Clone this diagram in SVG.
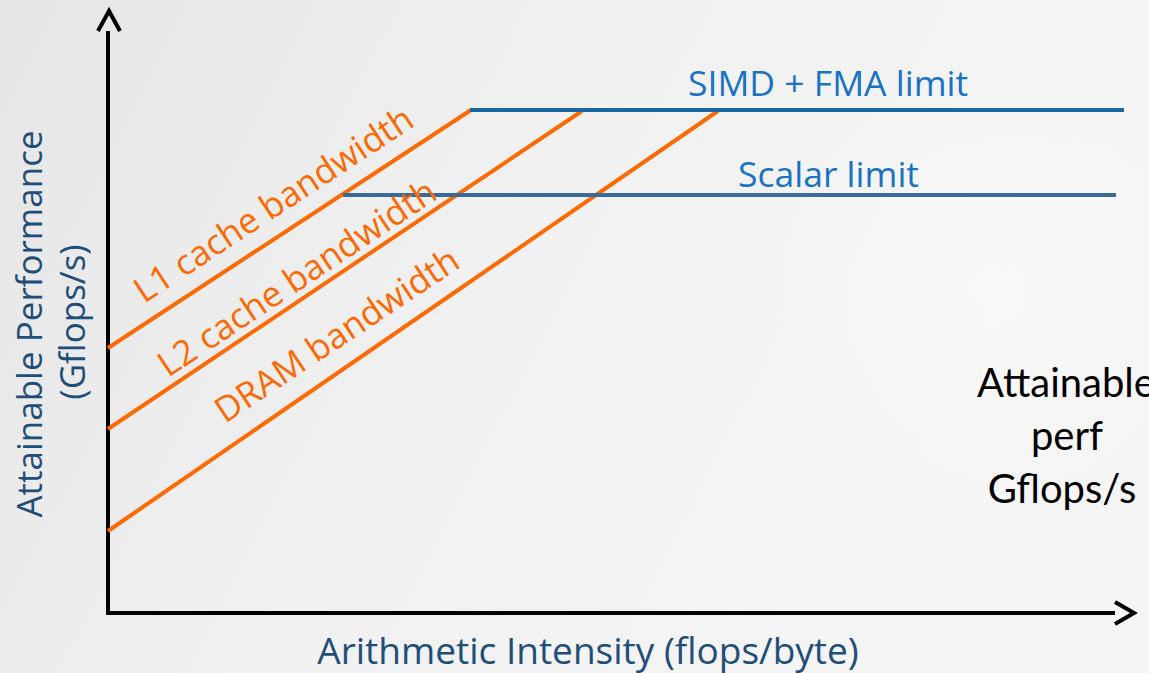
<svg xmlns="http://www.w3.org/2000/svg" width="1149" height="673" viewBox="0 0 1149 673">
  <defs>
    <linearGradient id="bg" x1="0" y1="0" x2="1" y2="0.3">
      <stop offset="0" stop-color="#e6e6e6"/>
      <stop offset="0.5" stop-color="#f1f1f1"/>
      <stop offset="1" stop-color="#f5f5f5"/>
    </linearGradient>
    <radialGradient id="glow" cx="990" cy="290" r="220" gradientUnits="userSpaceOnUse">
      <stop offset="0" stop-color="#fafafa" stop-opacity="0.8"/>
      <stop offset="1" stop-color="#fafafa" stop-opacity="0"/>
    </radialGradient>
    <style>
      .axis { stroke: #000; stroke-width: 4; fill: none; }
      .head { stroke: #000; stroke-width: 4; fill: none; stroke-linejoin: miter; }
      .bw { stroke: #ff6a00; stroke-width: 4; fill: none; }
      .simd { stroke: #1a66a0; stroke-width: 4; fill: none; }
      .scalar { stroke: #3a6a9a; stroke-width: 4; fill: none; }
      .bwlabel { font-family: "Open Sans", "Noto Sans", sans-serif; font-size: 35px; fill: #ff6a00; }
      .limlabel { font-family: "Open Sans", "Noto Sans", sans-serif; font-size: 35.5px; fill: #1a72c2; }
      .axlabel { font-family: "Open Sans", "Noto Sans", sans-serif; font-size: 35px; fill: #1f4e79; }
      .axlabel.wide { font-size: 37px; }
      .note { font-family: Lato, "Liberation Sans", sans-serif; font-size: 40px; fill: #000; text-anchor: middle; }
    </style>
  </defs>

  <rect width="1149" height="673" fill="url(#bg)"/>
  <rect width="1149" height="673" fill="url(#glow)"/>

  <!-- axes -->
  <g id="axes">
    <line class="axis" x1="108" y1="31" x2="108" y2="615"/>
    <polyline class="head" points="98,31 109,11 120,31"/>
    <line class="axis" x1="106" y1="613" x2="1115" y2="613"/>
    <polyline class="head" points="1115,602 1134,613 1115,624"/>
  </g>

  <!-- roofline segments -->
  <g id="connectors">
    <line id="l1-roof" class="bw" x1="108" y1="348" x2="471" y2="110"/>
    <line id="l2-roof" class="bw" x1="108" y1="429" x2="582" y2="111"/>
    <line id="dram-roof" class="bw" x1="108" y1="531" x2="718" y2="111"/>
    <line id="simd-ceiling" class="simd" x1="470" y1="110" x2="1124" y2="110"/>
    <line id="scalar-ceiling" class="scalar" x1="343" y1="195" x2="1116" y2="195"/>
  </g>

  <!-- bandwidth labels -->
  <g id="label-l1">
    <text class="bwlabel" transform="translate(144,304) rotate(-33.3)">L1 cache bandwidth</text>
  </g>
  <g id="label-l2">
    <text class="bwlabel" transform="translate(168,378) rotate(-33.6)">L2 cache bandwidth</text>
  </g>
  <g id="label-dram">
    <text class="bwlabel" transform="translate(225,424) rotate(-33.6)">DRAM bandwidth</text>
  </g>

  <!-- ceiling labels -->
  <g id="label-simd">
    <text class="limlabel" x="688" y="96">SIMD + FMA limit</text>
  </g>
  <g id="label-scalar">
    <text class="limlabel" x="738" y="187">Scalar limit</text>
  </g>

  <!-- axis titles -->
  <g id="y-title">
    <text class="axlabel" text-anchor="middle" transform="translate(42,324) rotate(-90)">Attainable Performance</text>
    <text class="axlabel" text-anchor="middle" transform="translate(85,322) rotate(-90)">(Gflops/s)</text>
  </g>
  <g id="x-title">
    <text class="axlabel wide" text-anchor="middle" x="588" y="664">Arithmetic Intensity (flops/byte)</text>
  </g>

  <!-- side note -->
  <g id="note">
    <text class="note" x="1066" y="397">Attainable</text>
    <text class="note" x="1067" y="450">perf</text>
    <text class="note" x="1062" y="503">Gflops/s</text>
  </g>
</svg>
